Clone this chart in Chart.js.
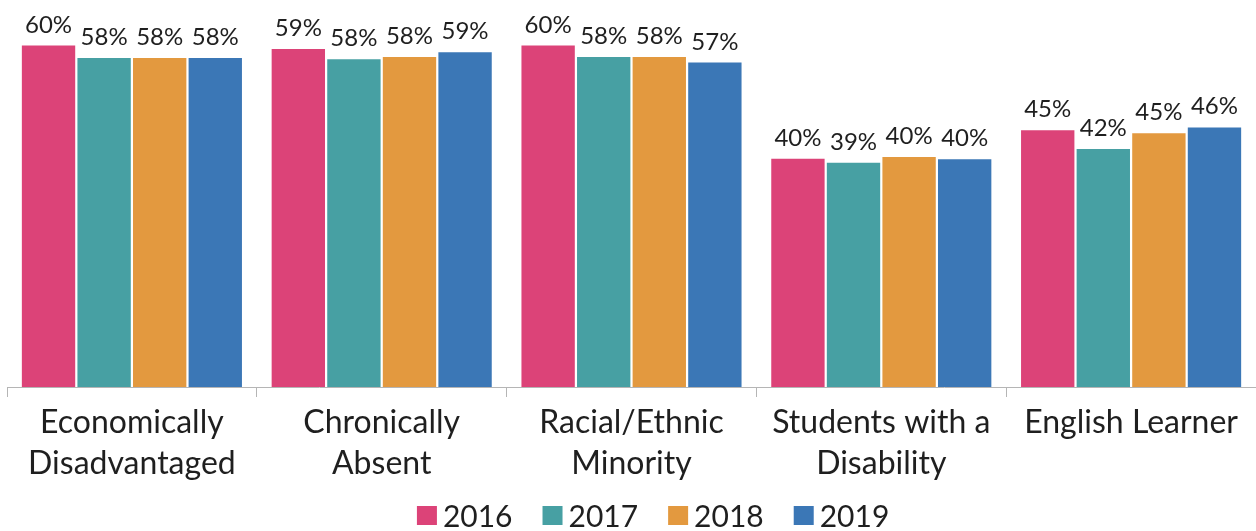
<!DOCTYPE html>
<html>
<head>
<meta charset="utf-8">
<script src="https://cdn.jsdelivr.net/npm/chart.js@4/dist/chart.umd.min.js"></script>
<style>
  html, body { margin: 0; padding: 0; background: #fff; }
  #wrap { width: 1256px; height: 531px; position: relative; }
</style>
</head>
<body>
<div id="wrap"><canvas id="chart"></canvas></div>
<script>
// ===== DATA =====
const categories = [
    ['Economically', 'Disadvantaged'],
    ['Chronically', 'Absent'],
    ['Racial/Ethnic', 'Minority'],
    ['Students with a', 'Disability'],
    'English Learner',
];
const years = ['2016', '2017', '2018', '2019'];
const values2016 = [60.0, 59.4, 60.0, 40.1, 45.1];
const values2017 = [57.8, 57.6, 58.0, 39.4, 41.8];
const values2018 = [57.8, 58.0, 58.0, 40.4, 44.6];
const values2019 = [57.8, 58.8, 57.0, 40.0, 45.6];
const colors = ['#dc4378', '#47a0a3', '#e3993f', '#3b77b6'];

const FONT = 'Lato, "Open Sans", sans-serif';
const TEXT = '#1f1f1f';

// value labels above each bar
const barLabels = {
    id: 'barLabels',
    afterDatasetsDraw(chart) {
        const ctx = chart.ctx;
        ctx.save();
        ctx.font = '24px ' + FONT;
        ctx.fillStyle = TEXT;
        ctx.textAlign = 'center';
        ctx.textBaseline = 'alphabetic';
        chart.data.datasets.forEach((ds, i) => {
            chart.getDatasetMeta(i).data.forEach((bar, j) => {
                ctx.fillText(Math.round(ds.data[j]) + '%', bar.x, bar.y - 13);
            });
        });
        ctx.restore();
    },
};

// legend row under the axis labels
const bottomLegend = {
    id: 'bottomLegend',
    afterDraw(chart) {
        const ctx = chart.ctx;
        const box = 20, gap = 6, spacing = 30;
        const cy = chart.height - 15;
        ctx.save();
        ctx.font = '30px ' + FONT;
        ctx.textBaseline = 'middle';
        ctx.textAlign = 'left';
        const items = chart.data.datasets.map((ds) => ({
            text: ds.label,
            color: ds.backgroundColor,
            w: box + gap + ctx.measureText(ds.label).width,
        }));
        const total = items.reduce((s, it) => s + it.w, 0) + spacing * (items.length - 1);
        let x = chart.width * 0.52 - total / 2;
        items.forEach((it) => {
            ctx.fillStyle = it.color;
            ctx.fillRect(x, cy - box / 2, box, box - 1);
            ctx.fillStyle = TEXT;
            ctx.fillText(it.text, x + box + gap, cy + 1);
            x += it.w + spacing;
        });
        ctx.restore();
    },
};

const seriesValues = [values2016, values2017, values2018, values2019];

const ctx = document.getElementById('chart').getContext('2d');
new Chart(ctx, {
    type: 'bar',
    data: {
        labels: categories,
        datasets: years.map((y, i) => ({
            label: y,
            data: seriesValues[i],
            backgroundColor: colors[i],
            categoryPercentage: 0.89,
            barPercentage: 0.96,
        })),
    },
    options: {
        responsive: true,
        maintainAspectRatio: false,
        animation: false,
        layout: { padding: { left: 7, right: 0, top: 0, bottom: 42 } },
        plugins: {
            legend: { display: false },
            tooltip: { enabled: false },
        },
        scales: {
            x: {
                border: { color: '#b5b5b5', width: 1 },
                grid: {
                    offset: true,
                    drawOnChartArea: false,
                    drawTicks: true,
                    tickLength: 10,
                    color: '#b5b5b5',
                },
                ticks: {
                    color: TEXT,
                    padding: 5,
                    font: { family: FONT, size: 32, lineHeight: 41 / 32 },
                    maxRotation: 0,
                    autoSkip: false,
                },
            },
            y: {
                display: false,
                min: 0,
                max: 68,
            },
        },
    },
    plugins: [barLabels, bottomLegend],
});
</script>
</body>
</html>
